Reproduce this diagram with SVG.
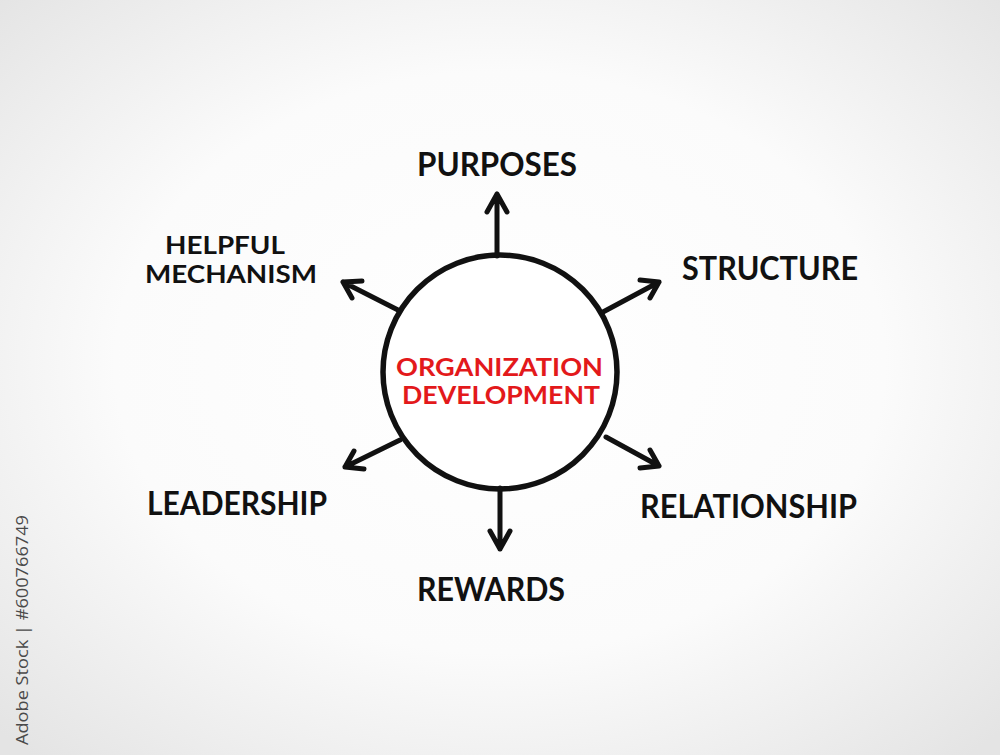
<svg xmlns="http://www.w3.org/2000/svg" width="1000" height="755" viewBox="0 0 1000 755">
<defs>
<radialGradient id="bg" cx="50%" cy="48%" r="70%">
<stop offset="0" stop-color="#ffffff"/>
<stop offset="0.55" stop-color="#fbfbfb"/>
<stop offset="1" stop-color="#e4e4e4"/>
</radialGradient>
<style>
.lbl{font-family:Lato,"Open Sans","Liberation Sans",sans-serif;font-weight:700;font-size:32px;fill:#111;}
.two{font-size:24px;}
.ctr{font-family:Lato,"Open Sans","Liberation Sans",sans-serif;font-weight:700;font-size:24px;fill:#e3191b;}
.ln{stroke:#111;stroke-width:5;fill:none;stroke-linecap:round;stroke-linejoin:round;}
.wm{font-family:"Open Sans","Liberation Sans",sans-serif;font-size:17px;fill:#4a4a4a;}
</style>
</defs>
<rect width="1000" height="755" fill="url(#bg)"/>
<text class="wm" transform="translate(28,745) rotate(-90)" textLength="230" lengthAdjust="spacingAndGlyphs">Adobe Stock | #600766749</text>
<g id="center">
<circle cx="500" cy="372" r="117" fill="#ffffff" stroke="#111" stroke-width="5.5"/>
<text class="ctr" x="396" y="376" textLength="207" lengthAdjust="spacingAndGlyphs">ORGANIZATION</text>
<text class="ctr" x="402" y="404" textLength="198" lengthAdjust="spacingAndGlyphs">DEVELOPMENT</text>
</g>
<g id="connectors">
<path class="ln" d="M497 256 L497 194 M487 212 L497 194 L507 212"/>
<path class="ln" d="M500 488 L500 549 M490 531 L500 549 L510 531"/>
<path class="ln" d="M603 312 L659 282 M640 280 L659 282 L650 298"/>
<path class="ln" d="M606 437 L659 466 M650 450 L659 466 L640 468"/>
<path class="ln" d="M398 310 L343 282 M352 298 L343 282 L362 281"/>
<path class="ln" d="M400 440 L345 467 M364 469 L345 467 L354 451"/>
</g>
<g id="purposes"><text class="lbl" x="417" y="176" textLength="160" lengthAdjust="spacingAndGlyphs">PURPOSES</text></g>
<g id="structure"><text class="lbl" x="682" y="280" textLength="176" lengthAdjust="spacingAndGlyphs">STRUCTURE</text></g>
<g id="relationship"><text class="lbl" x="640" y="518" textLength="217" lengthAdjust="spacingAndGlyphs">RELATIONSHIP</text></g>
<g id="rewards"><text class="lbl" x="417" y="601" textLength="148" lengthAdjust="spacingAndGlyphs">REWARDS</text></g>
<g id="leadership"><text class="lbl" x="147" y="515" textLength="180" lengthAdjust="spacingAndGlyphs">LEADERSHIP</text></g>
<g id="helpful-mechanism">
<text class="lbl two" x="165" y="254" textLength="120" lengthAdjust="spacingAndGlyphs">HELPFUL</text>
<text class="lbl two" x="145" y="283" textLength="172" lengthAdjust="spacingAndGlyphs">MECHANISM</text>
</g>
</svg>
